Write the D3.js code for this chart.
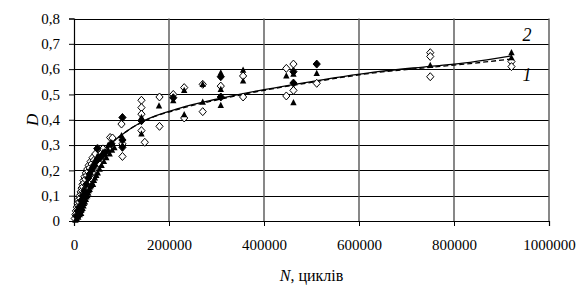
<!DOCTYPE html>
<html lang="uk">
<head>
<meta charset="UTF-8">
<title>D vs N</title>
<script src="https://cdn.jsdelivr.net/npm/d3@7/dist/d3.min.js"></script>
<style>
  body { margin: 0; background: #fff; }
</style>
</head>
<body>
<div id="chart"></div>
<script>
// axis ticks
const xTicks = [0, 200000, 400000, 600000, 800000, 1000000];
const yTicks = [0, 0.1, 0.2, 0.3, 0.4, 0.5, 0.6, 0.7, 0.8];

// open diamonds [N, D]
const openDiamonds = [
  [1500,0.01],[3000,0.025],[4000,0.04],[5000,0.03],[6000,0.055],[7000,0.045],[8000,0.07],[9000,0.06],
  [10000,0.085],[11000,0.075],[12000,0.1],[13000,0.09],[14000,0.115],[15000,0.105],[16000,0.13],[17000,0.12],
  [18000,0.145],[19000,0.135],[20000,0.16],[21000,0.15],[22000,0.175],[24000,0.165],[25000,0.19],[27000,0.18],
  [28000,0.205],[30000,0.195],[31000,0.22],[33000,0.21],[35000,0.235],[37000,0.225],[39000,0.25],[42000,0.24],
  [45000,0.265],[20000,0.11],[25000,0.13],[30000,0.15],[38000,0.19],[44000,0.21],[52000,0.23],
  [51000,0.285],[61000,0.285],[76000,0.33],[81000,0.328],[100000,0.383],[102000,0.305],[102000,0.255],
  [142000,0.477],[142000,0.448],[142000,0.422],[142000,0.357],[149000,0.311],[180000,0.49],[180000,0.374],
  [209000,0.50],[232000,0.527],[232000,0.407],[271000,0.54],[271000,0.432],[309000,0.533],
  [356000,0.573],[356000,0.49],[447000,0.603],[447000,0.494],[462000,0.62],[462000,0.516],[511000,0.544],
  [750000,0.665],[750000,0.65],[750000,0.57],[921000,0.63],[921000,0.61]
];

// filled triangles [N, D]
const triangles = [
  [3000,0.003],[6000,0.008],[9000,0.015],[12000,0.025],[15000,0.03],[16000,0.045],[18000,0.05],[20000,0.06],
  [21000,0.07],[23000,0.075],[25000,0.085],[26000,0.095],[28000,0.1],[30000,0.11],[31000,0.12],[33000,0.125],
  [34000,0.135],[36000,0.14],[38000,0.15],[40000,0.145],[42000,0.16],
  [44000,0.17],[47000,0.18],[50000,0.19],[54000,0.205],[58000,0.22],[63000,0.235],[68000,0.25],[75000,0.265],
  [80000,0.28],[85000,0.29],
  [49000,0.255],[61000,0.272],[72000,0.30],[72000,0.28],[100000,0.337],[142000,0.409],[142000,0.344],
  [179000,0.455],[209000,0.475],[232000,0.516],[232000,0.42],[271000,0.54],[271000,0.47],
  [309000,0.585],[309000,0.52],[309000,0.457],[356000,0.596],[356000,0.553],[447000,0.573],
  [462000,0.58],[462000,0.468],[511000,0.583],[750000,0.615],[921000,0.665],[921000,0.645]
];

// filled diamonds [N, D]
const filledDiamonds = [
  [5000,0.02],[8000,0.04],[11000,0.055],[15000,0.08],[18000,0.1],[22000,0.12],[26000,0.145],[30000,0.17],
  [33000,0.185],[36000,0.2],[40000,0.21],[42000,0.22],[46000,0.235],[50000,0.245],[55000,0.25],[60000,0.26],[65000,0.27],
  [9000,0.02],[13000,0.035],[17000,0.065],[24000,0.1],
  [49000,0.286],[79000,0.305],[102000,0.409],[102000,0.32],[102000,0.291],[142000,0.396],[209000,0.487],
  [309000,0.57],[309000,0.49],[462000,0.59],[462000,0.545],[511000,0.62]
];

// fitted curves
const curveN  = [0, 10000, 20000, 30000, 40000, 55000, 75000, 100000, 146000, 223000, 300000, 400000, 500000, 644000, 750000, 834000, 921000];
const curve1D = [0, 0.06, 0.115, 0.165, 0.21, 0.255, 0.30, 0.34, 0.393, 0.443, 0.478, 0.516, 0.548, 0.588, 0.607, 0.622, 0.640];
const curve2D = [0, 0.06, 0.115, 0.165, 0.21, 0.255, 0.30, 0.34, 0.395, 0.446, 0.481, 0.519, 0.551, 0.591, 0.611, 0.627, 0.652];

const width = 583, height = 289;
const margin = { top: 18.5, right: 34, bottom: 68, left: 74 };
const serif = "Liberation Serif";

const svg = d3.select("#chart").append("svg")
  .attr("width", width)
  .attr("height", height)
  .attr("font-family", serif);

const x = d3.scaleLinear().domain([0, 1000000]).range([margin.left, width - margin.right]);
const y = d3.scaleLinear().domain([0, 0.8]).range([height - margin.bottom, margin.top]);

// horizontal gridlines
svg.append("g")
  .selectAll("line")
  .data(yTicks.slice(1))
  .join("line")
  .attr("x1", margin.left).attr("x2", width - margin.right)
  .attr("y1", d => Math.round(y(d)) + 0.5).attr("y2", d => Math.round(y(d)) + 0.5)
  .attr("stroke", "#000").attr("stroke-width", 1);

// vertical gridlines
svg.append("g")
  .selectAll("line")
  .data(xTicks.slice(1))
  .join("line")
  .attr("x1", d => x(d)).attr("x2", d => x(d))
  .attr("y1", margin.top).attr("y2", height - margin.bottom)
  .attr("stroke", "#555").attr("stroke-width", 1.4);

// axes
const fmt = d => d3.format(".1f")(d).replace(".", ",").replace(/^0,0$/, "0");
svg.append("g")
  .attr("transform", `translate(${margin.left},0)`)
  .call(d3.axisLeft(y).tickValues(yTicks).tickSize(5).tickPadding(9).tickFormat(fmt))
  .attr("font-family", serif).attr("font-size", 15)
  .call(g => g.select(".domain").attr("stroke-width", 1.2));

svg.append("g")
  .attr("transform", `translate(0,${height - margin.bottom})`)
  .call(d3.axisBottom(x).tickValues(xTicks).tickSize(5).tickPadding(13).tickFormat(d3.format("d")))
  .attr("font-family", serif).attr("font-size", 15)
  .call(g => g.select(".domain").attr("stroke-width", 1.2));

// curves
const line = d3.line().curve(d3.curveMonotoneX);
svg.append("path")
  .attr("d", line(curveN.map((n, i) => [x(n), y(curve2D[i])])))
  .attr("fill", "none").attr("stroke", "#000").attr("stroke-width", 1.3);
svg.append("path")
  .attr("d", line(curveN.map((n, i) => [x(n), y(curve1D[i])])))
  .attr("fill", "none").attr("stroke", "#000").attr("stroke-width", 1.3)
  .attr("stroke-dasharray", "5,3");

// markers
const diamond = "M0,-4L3.6,0L0,4L-3.6,0Z";
const tri = "M0,-3.6L3.2,2.6L-3.2,2.6Z";

svg.append("g").selectAll("path")
  .data(openDiamonds).join("path")
  .attr("d", diamond)
  .attr("transform", d => `translate(${x(d[0])},${y(d[1])})`)
  .attr("fill", "#fff").attr("stroke", "#000").attr("stroke-width", 1);

svg.append("g").selectAll("path")
  .data(filledDiamonds).join("path")
  .attr("d", diamond)
  .attr("transform", d => `translate(${x(d[0])},${y(d[1])})`)
  .attr("fill", "#000").attr("stroke", "#000").attr("stroke-width", 1);

svg.append("g").selectAll("path")
  .data(triangles).join("path")
  .attr("d", tri)
  .attr("transform", d => `translate(${x(d[0])},${y(d[1])})`)
  .attr("fill", "#000");

// curve labels
svg.append("text").attr("x", 527).attr("y", 41)
  .attr("text-anchor", "middle").attr("font-size", 18).attr("font-style", "italic").text("2");
svg.append("text").attr("x", 527).attr("y", 81)
  .attr("text-anchor", "middle").attr("font-size", 18).attr("font-style", "italic").text("1");

// axis titles
svg.append("text")
  .attr("transform", "rotate(-90)")
  .attr("x", -(margin.top + (height - margin.bottom)) / 2)
  .attr("y", 38)
  .attr("text-anchor", "middle")
  .attr("font-size", 17).attr("font-style", "italic")
  .text("D");

const xt = svg.append("text")
  .attr("x", (margin.left + width - margin.right) / 2)
  .attr("y", 281)
  .attr("text-anchor", "middle")
  .attr("font-size", 16);
xt.append("tspan").attr("font-style", "italic").text("N");
xt.append("tspan").text(", циклів");
</script>
</body>
</html>
